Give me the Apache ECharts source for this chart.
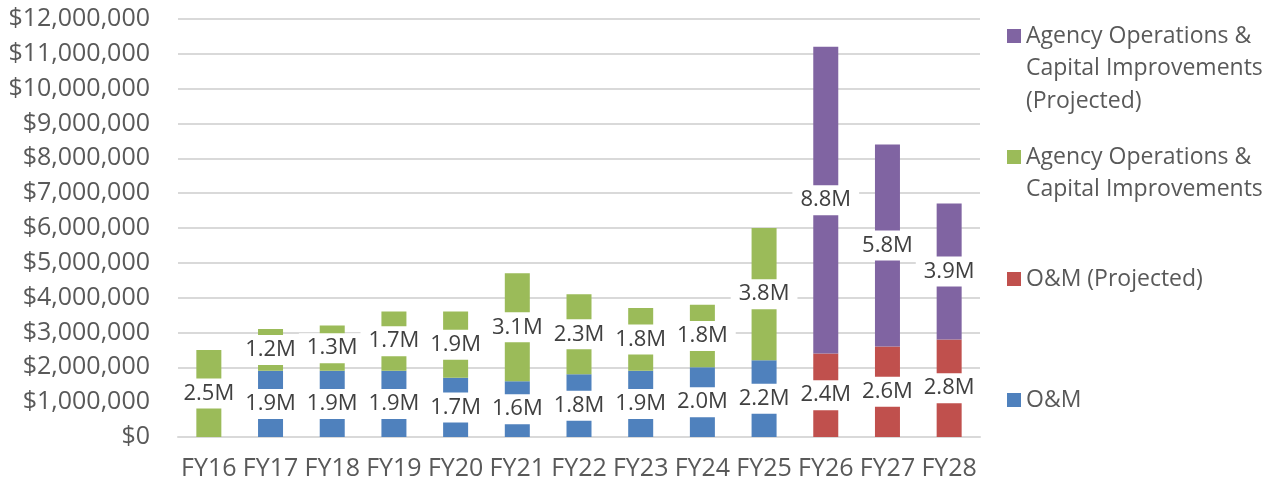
<!DOCTYPE html>
<html>
<head>
<meta charset="utf-8">
<script src="https://cdn.jsdelivr.net/npm/echarts@6/dist/echarts.min.js"></script>
<style>
  html, body { margin: 0; padding: 0; background: #ffffff; }
  #chart { width: 1280px; height: 486px; }
</style>
</head>
<body>
<div id="chart"></div>
<script>
// Fiscal years on the category axis
const categories = ['FY16', 'FY17', 'FY18', 'FY19', 'FY20', 'FY21', 'FY22', 'FY23', 'FY24', 'FY25', 'FY26', 'FY27', 'FY28'];

// Dollar amounts per series (null = no segment that year)
const omValues = [null, 1900000, 1900000, 1900000, 1700000, 1600000, 1800000, 1900000, 2000000, 2200000, null, null, null];
const omProjectedValues = [null, null, null, null, null, null, null, null, null, null, 2400000, 2600000, 2800000];
const agencyValues = [2500000, 1200000, 1300000, 1700000, 1900000, 3100000, 2300000, 1800000, 1800000, 3800000, null, null, null];
const agencyProjectedValues = [null, null, null, null, null, null, null, null, null, null, 8800000, 5800000, 3900000];

// Value axis ticks
const yMin = 0;
const yMax = 12000000;
const yStep = 1000000;

const FONT = '"Open Sans", sans-serif';
const AXIS_TEXT = '#595959';

function money(v) {
  return '$' + Math.round(v).toString().replace(/\B(?=(\d{3})+(?!\d))/g, ',');
}
function millions(p) {
  return (p.value / 1e6).toFixed(1) + 'M';
}

const segLabel = {
  show: true,
  position: 'inside',
  formatter: millions,
  color: '#404040',
  fontFamily: FONT,
  fontSize: 22,
  lineHeight: 26,
  backgroundColor: '#ffffff',
  padding: [2, 8, 2, 8]
};

function barSeries(name, data, color) {
  return {
    name: name,
    type: 'bar',
    stack: 'total',
    barWidth: 25,
    data: data,
    itemStyle: { color: color },
    label: segLabel,
    emphasis: { disabled: true }
  };
}

const names = {
  om: 'O&M',
  omProj: 'O&M (Projected)',
  agency: 'Agency Operations & Capital Improvements',
  agencyProj: 'Agency Operations & Capital Improvements (Projected)'
};

// Wrapped legend text; leading blank lines keep the swatch beside the first line
const LINE_H = 32.5;
function legendBlock(name, lines, iconCenterY) {
  const n = lines.length;
  const padded = new Array(n - 1).fill('').concat(lines);
  return {
    show: true,
    data: [name],
    orient: 'vertical',
    left: 1007,
    top: iconCenterY - padded.length * LINE_H / 2,
    padding: 0,
    itemWidth: 14,
    itemHeight: 14,
    itemGap: 0,
    icon: 'rect',
    selectedMode: false,
    formatter: function () { return padded.join('\n'); },
    textStyle: {
      color: AXIS_TEXT,
      fontFamily: FONT,
      fontSize: 23,
      lineHeight: LINE_H
    }
  };
}

const chart = echarts.init(document.getElementById('chart'), null, { renderer: 'canvas' });

chart.setOption({
  animation: false,
  backgroundColor: '#ffffff',
  textStyle: { fontFamily: FONT },
  grid: { left: 178, right: 300, top: 19, bottom: 49, containLabel: false },
  legend: [
    legendBlock(names.agencyProj, ['Agency Operations &', 'Capital Improvements', '(Projected)'], 36),
    legendBlock(names.agency, ['Agency Operations &', 'Capital Improvements'], 157),
    legendBlock(names.omProj, ['O&M (Projected)'], 279),
    legendBlock(names.om, ['O&M'], 400)
  ],
  xAxis: {
    type: 'category',
    data: categories,
    axisLine: { show: true, lineStyle: { color: '#d9d9d9', width: 2 } },
    axisTick: { show: false },
    axisLabel: { color: AXIS_TEXT, fontFamily: FONT, fontSize: 25, margin: 19, interval: 0 }
  },
  yAxis: {
    type: 'value',
    min: yMin,
    max: yMax,
    interval: yStep,
    axisLine: { show: false },
    axisTick: { show: false },
    splitLine: { lineStyle: { color: '#d9d9d9', width: 2 } },
    axisLabel: { color: AXIS_TEXT, fontFamily: FONT, fontSize: 25, margin: 28, formatter: money }
  },
  series: [
    barSeries(names.om, omValues, '#4F81BD'),
    barSeries(names.omProj, omProjectedValues, '#C0504D'),
    barSeries(names.agency, agencyValues, '#9BBB59'),
    barSeries(names.agencyProj, agencyProjectedValues, '#8064A2')
  ]
});
</script>
</body>
</html>
